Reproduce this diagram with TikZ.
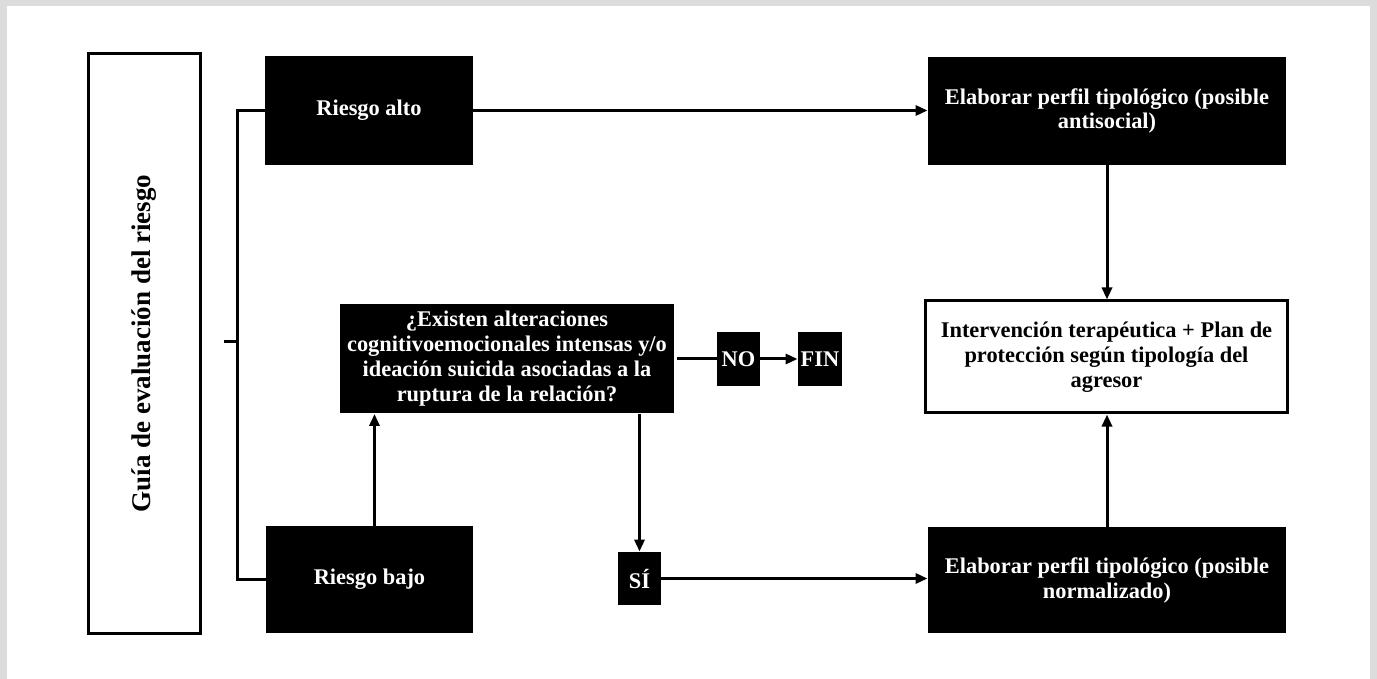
\documentclass[tikz,border=0pt]{standalone}
\usepackage{fontspec}
\setmainfont{Liberation Serif}
\usetikzlibrary{arrows.meta,calc}
\definecolor{framegray}{RGB}{220,220,220}
\begin{document}
\begin{tikzpicture}[x=0.5pt,y=-0.5pt,
  txt/.style={font=\fontsize{11.2}{12.5}\selectfont\bfseries,align=center,inner sep=0pt},
  blk/.style={txt,fill=black,text=white,draw=none},
  wht/.style={txt,draw=black,line width=1.5pt,fill=white,text=black},
  arr/.style={line width=1.5pt,-{Triangle[length=6pt,width=5pt]}},
  ln/.style={line width=1.5pt}]
\useasboundingbox (0,0) rectangle (1377,679);
\fill[framegray] (0,0) rectangle (1377,679);
\fill[white] (7,6) rectangle (1370,679);

% nodes
\node[wht,minimum width=56pt,minimum height=289.5pt,
      font=\fontsize{13.5}{15}\selectfont\bfseries] (guia) at (144,343.5)
      {\rotatebox{90}{Guía de evaluación del riesgo}};
\node[blk,minimum width=104pt,minimum height=54.5pt] (ralto) at (369,110.5) {Riesgo alto};
\node[blk,minimum width=103.5pt,minimum height=53.5pt] (rbajo) at (369.5,579.5) {Riesgo bajo};
\node[blk,minimum width=167pt,minimum height=54.5pt] (quest) at (507,359)
  {¿Existen alteraciones\\cognitivoemocionales intensas y/o\\ideación suicida asociadas a la\\ruptura de la relación?};
\node[blk,minimum width=21.5pt,minimum height=27pt] (no) at (738.5,359) {NO};
\node[blk,minimum width=22pt,minimum height=27pt] (fin) at (820,359) {FIN};
\node[blk,minimum width=21.5pt,minimum height=26.5pt] (si) at (639.5,578.5) {SÍ};
\node[blk,minimum width=179pt,minimum height=54pt] (anti) at (1107,111)
  {Elaborar perfil tipológico (posible\\antisocial)};
\node[wht,minimum width=181pt,minimum height=56pt] (interv) at (1106.5,357)
  {Intervención terapéutica + Plan de\\protección según tipología del\\agresor};
\node[blk,minimum width=179pt,minimum height=53pt] (norm) at (1107,580)
  {Elaborar perfil tipológico (posible\\normalizado)};

% bracket
\coordinate (brbot) at (237,579.5);
\coordinate (brmid) at (237,342);
\coordinate (tick) at (224,342);
\draw[ln] (ralto.west) -| (brbot) -- (rbajo.west);
\draw[ln] (tick) -- (brmid);

% connectors
\draw[arr] (ralto.east) -- (ralto.east -| anti.west);
\draw[arr] (anti.south) -- (anti.south |- interv.north);
\draw[arr] (norm.north) -- (norm.north |- interv.south);
\draw[arr] (si.east) -- (si.east -| norm.west);
\draw[arr] (quest.south -| si.north) -- (si.north);
\draw[arr] ([xshift=2.5pt]rbajo.north) -- ([xshift=2.5pt]rbajo.north |- quest.south);
\draw[ln] ([xshift=1.5pt]quest.east) -- (no.west);
\draw[arr] (no.east) -- (fin.west);
\end{tikzpicture}
\end{document}
